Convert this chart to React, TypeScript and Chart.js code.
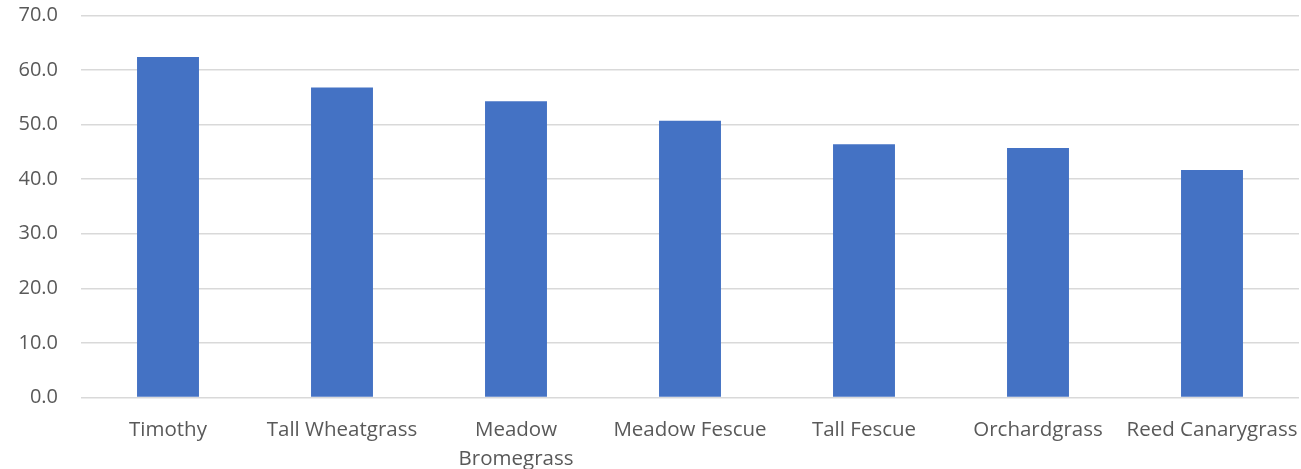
import React, { useEffect, useRef } from "react";
import { Chart, registerables } from "chart.js";

Chart.register(...registerables);

const categories: (string | string[])[] = [
  "Timothy",
  "Tall Wheatgrass",
  ["Meadow", "Bromegrass"],
  "Meadow Fescue",
  "Tall Fescue",
  "Orchardgrass",
  "Reed Canarygrass",
];
const values = [62.4, 56.8, 54.3, 50.7, 46.4, 45.7, 41.7];
const yMin = 0;
const yMax = 70;
const yStep = 10;

export default function App() {
  const ref = useRef<HTMLCanvasElement | null>(null);
  useEffect(() => {
    document.body.style.margin = "0";
    if (!ref.current) return;
    const family = "'Open Sans', sans-serif";
    const chart = new Chart(ref.current, {
      type: "bar",
      data: {
        labels: categories,
        datasets: [
          {
            data: values,
            backgroundColor: "#4472C4",
            borderColor: "#4472C4",
            borderWidth: 0,
            categoryPercentage: 1,
            barPercentage: 0.356,
          },
        ],
      },
      options: {
        animation: false,
        responsive: false,
        maintainAspectRatio: false,
        layout: { padding: { top: 15.5, right: 2, left: 0, bottom: 0 } },
        plugins: { legend: { display: false }, tooltip: { enabled: false } },
        scales: {
          x: {
            grid: { display: false },
            border: { display: false },
            ticks: {
              color: "#595959",
              font: { family, size: 20.5, lineHeight: 1.41 },
              maxRotation: 0,
              minRotation: 0,
              autoSkip: false,
              padding: 10.5,
            },
            afterFit: (s: any) => {
              s.height = 71.5;
              s.paddingLeft = 0;
              s.paddingRight = 0;
            },
          },
          y: {
            min: yMin,
            max: yMax,
            grid: { color: "#D9D9D9", lineWidth: 1.5, drawTicks: false },
            border: { display: false },
            ticks: {
              stepSize: yStep,
              color: "#595959",
              font: { family, size: 20 },
              padding: 23,
              callback: (v: any) => Number(v).toFixed(1),
            },
            afterFit: (s: any) => {
              s.width = 81;
              s.paddingTop = 0;
              s.paddingBottom = 0;
            },
          },
        },
      },
    });
    return () => chart.destroy();
  }, []);
  return (
    <div style={{ position: "fixed", left: 0, top: 0, width: 1301, height: 469, background: "#fff" }}>
      <canvas ref={ref} width={1301} height={469} style={{ width: 1301, height: 469 }} />
    </div>
  );
}
